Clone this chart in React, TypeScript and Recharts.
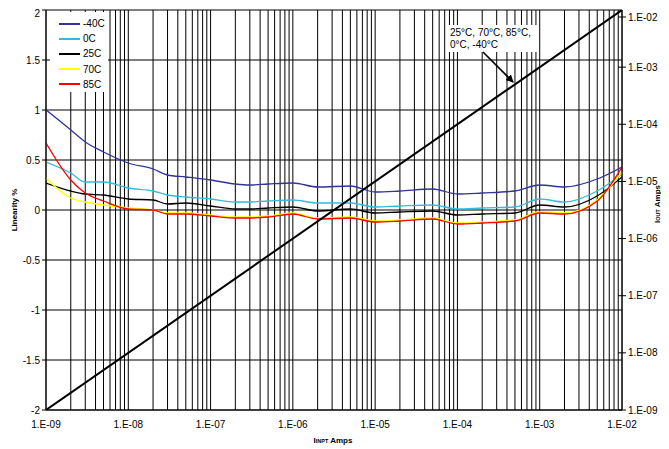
import { CartesianGrid, Legend, Line, LineChart, XAxis, YAxis } from 'recharts';

// input current sample points (A)
const currents = [
  1e-9, 2e-9, 3e-9, 5e-9, 1e-8, 2e-8, 3e-8, 5e-8, 1e-7, 2e-7, 3e-7, 5e-7, 1e-6, 2e-6, 5e-6, 1e-5, 2e-5,
  5e-5, 1e-4, 2e-4, 5e-4, 1e-3, 2e-3, 5e-3, 1e-2,
];

// linearity %, one value per current above
const linM40 = [
  1.0, 0.8, 0.68, 0.58, 0.47, 0.41, 0.35, 0.33, 0.3, 0.26, 0.25, 0.26, 0.27, 0.23, 0.24, 0.18, 0.19, 0.21,
  0.16, 0.17, 0.19, 0.25, 0.23, 0.31, 0.43,
];
const lin0 = [
  0.48, 0.37, 0.28, 0.28, 0.22, 0.19, 0.15, 0.13, 0.11, 0.08, 0.08, 0.09, 0.1, 0.07, 0.07, 0.03, 0.04, 0.05,
  0.01, 0.02, 0.03, 0.11, 0.08, 0.19, 0.36,
];
const lin25 = [
  0.27, 0.19, 0.16, 0.15, 0.11, 0.1, 0.06, 0.07, 0.04, 0.01, 0.01, 0.02, 0.03, -0.01, 0.01, -0.03, -0.02,
  -0.01, -0.05, -0.04, -0.03, 0.05, 0.03, 0.14, 0.33,
];
const lin70 = [
  0.32, 0.12, 0.08, 0.05, 0.02, 0.0, -0.03, -0.03, -0.05, -0.07, -0.07, -0.06, -0.03, -0.08, -0.07, -0.11,
  -0.1, -0.08, -0.13, -0.12, -0.1, -0.02, -0.03, 0.1, 0.38,
];
const lin85 = [
  0.67, 0.3, 0.17, 0.09, 0.01, 0.0, -0.04, -0.04, -0.06, -0.08, -0.08, -0.07, -0.04, -0.09, -0.08, -0.12,
  -0.11, -0.09, -0.14, -0.13, -0.11, -0.03, -0.04, 0.09, 0.43,
];

// Iout vs Iin (same for every temperature)
const ioutIn = [1e-9, 1e-2];
const ioutOut = [1e-9, 1e-2];

const decades = [-9, -8, -7, -6, -5, -4, -3];
const mults = [1, 2, 3, 4, 5, 6, 7, 8, 9];
const xTicks = [...decades.flatMap((d) => mults.map((m) => m * Math.pow(10, d))), 1e-2];
const leftTicks = [-2, -1.5, -1, -0.5, 0, 0.5, 1, 1.5, 2];
const rightTicks = [1e-9, 1e-8, 1e-7, 1e-6, 1e-5, 1e-4, 1e-3, 1e-2];

const series = [
  { key: 'm40', name: '-40C', color: '#333399', values: linM40 },
  { key: 't0', name: '0C', color: '#33bbdd', values: lin0 },
  { key: 't25', name: '25C', color: '#000000', values: lin25 },
  { key: 't70', name: '70C', color: '#ffff00', values: lin70 },
  { key: 't85', name: '85C', color: '#ff0000', values: lin85 },
];

const data = currents.map((x, i) => {
  const row: Record<string, number> = { x };
  series.forEach((s) => (row[s.key] = s.values[i]));
  return row;
});
const diag = ioutIn.map((x, i) => ({ x, iout: ioutOut[i] }));

const FONT = '"Liberation Sans", Arial, sans-serif';

const sci = (v: number) => {
  const e = Math.round(Math.log10(v));
  const s = e < 0 ? '-' : '+';
  return `1.E${s}${String(Math.abs(e)).padStart(2, '0')}`;
};
const xFmt = (v: number) => {
  const l = Math.log10(v);
  return Math.abs(l - Math.round(l)) < 1e-6 ? sci(v) : '';
};

// right axis tick: "+" style mark crossing the axis, then the label
function RightTick(props: any) {
  const { x, y, payload } = props;
  const ax = x - 6;
  return (
    <g>
      <line x1={ax - 4} y1={y} x2={ax + 4} y2={y} stroke="#000" />
      <text x={x} y={y} dy="0.355em" fontSize={10} fill="#000" fontFamily={FONT}>
        {sci(payload.value)}
      </text>
    </g>
  );
}

function LegendBox() {
  return (
    <div
      style={{
        background: '#fff',
        width: 58,
        height: 80,
        boxSizing: 'border-box',
        paddingTop: 4,
        fontFamily: FONT,
        fontSize: 10,
        textAlign: 'left',
      }}
    >
      {series.map((s) => (
        <div key={s.key} style={{ display: 'flex', alignItems: 'center', height: 15.2 }}>
          <span style={{ display: 'inline-block', width: 21, height: 2, background: s.color, marginLeft: 9 }} />
          <span style={{ marginLeft: 3 }}>{s.name}</span>
        </div>
      ))}
    </div>
  );
}

export default function App() {
  return (
    <div style={{ position: 'relative', width: 653, height: 441, fontFamily: FONT }}>
      <LineChart width={653} height={433} data={data} margin={{ top: 2, right: 0, left: 0, bottom: 0 }}>
        <CartesianGrid yAxisId="left" stroke="#000" strokeWidth={1} />
        <XAxis
          dataKey="x"
          type="number"
          scale="log"
          domain={[1e-9, 1e-2]}
          ticks={xTicks}
          tickFormatter={xFmt}
          interval={0}
          height={31}
          tickLine={false}
          tickMargin={5}
          axisLine={{ stroke: '#000' }}
          tick={{ fill: '#000', fontSize: 10 }}
          allowDataOverflow
        />
        <YAxis
          yAxisId="left"
          domain={[-2, 2]}
          ticks={leftTicks}
          width={38}
          tickSize={4}
          tickMargin={2}
          axisLine={{ stroke: '#000' }}
          tickLine={{ stroke: '#000' }}
          tick={{ fill: '#000', fontSize: 10 }}
        />
        <YAxis
          yAxisId="right"
          orientation="right"
          type="number"
          scale="log"
          domain={[1e-9, 1e-2]}
          ticks={rightTicks}
          width={39}
          tickSize={4}
          tickMargin={2}
          axisLine={{ stroke: '#000' }}
          tickLine={false}
          tick={<RightTick />}
          allowDataOverflow
        />
        {series.map((s) => (
          <Line
            key={s.key}
            yAxisId="left"
            dataKey={s.key}
            name={s.name}
            type="monotone"
            stroke={s.color}
            strokeWidth={1.3}
            dot={false}
            isAnimationActive={false}
          />
        ))}
        <Line
          yAxisId="right"
          data={diag}
          dataKey="iout"
          type="linear"
          stroke="#000"
          strokeWidth={2}
          dot={false}
          legendType="none"
          isAnimationActive={false}
        />
        <Legend
          verticalAlign="middle"
          align="center"
          layout="vertical"
          content={() => <LegendBox />}
          wrapperStyle={{ position: 'absolute', left: 42, top: 4, width: 58, height: 80 }}
        />
      </LineChart>

      {/* annotation for the Iout line */}
      <div
        style={{
          position: 'absolute',
          left: 440,
          top: 17,
          width: 89,
          height: 27,
          background: '#fff',
          fontSize: 10,
          lineHeight: '12px',
          paddingTop: 2,
          paddingLeft: 2,
          boxSizing: 'border-box',
        }}
      >
        25°C, 70°C, 85°C,
        <br />
        0°C, -40°C
      </div>
      <svg
        style={{ position: 'absolute', left: 0, top: 0, pointerEvents: 'none' }}
        width={653}
        height={441}
        fontFamily={FONT}
      >
        <defs>
          <marker id="ah" markerWidth="8" markerHeight="8" refX="7" refY="4" orient="auto" markerUnits="userSpaceOnUse">
            <path d="M0,0 L8,4 L0,8 z" fill="#000" />
          </marker>
        </defs>
        <line x1={475} y1={44} x2={505} y2={74} stroke="#000" strokeWidth={1.6} markerEnd="url(#ah)" />

        {/* axis titles */}
        <text x={9} y={202} transform="rotate(-90 9 202)" textAnchor="middle" fontSize={8} fontWeight="bold">
          Linearity %
        </text>
        <text x={652} y={196} transform="rotate(-90 652 196)" textAnchor="middle" fontSize={8} fontWeight="bold">
          I<tspan fontSize={5.5}>OUT</tspan> Amps
        </text>
        <text x={325} y={435} textAnchor="middle" fontSize={8} fontWeight="bold">
          I<tspan fontSize={5.5}>INPT</tspan> Amps
        </text>
      </svg>
    </div>
  );
}
